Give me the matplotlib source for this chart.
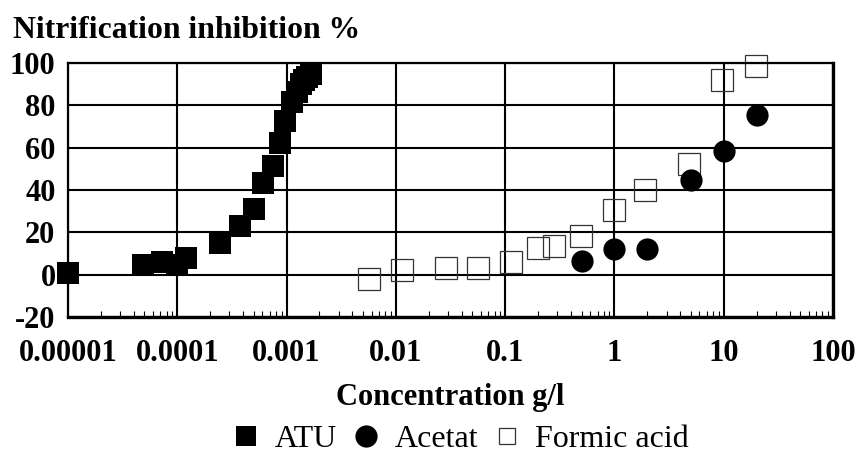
import numpy as np
from matplotlib import pyplot as plt
from matplotlib.ticker import FixedLocator, NullFormatter, LogLocator

plt.rcParams['font.family'] = ['Liberation Serif', 'DejaVu Serif']

# ATU
atu_x = [1e-5, 4.9e-5, 7.3e-5, 1.0e-4, 1.21e-4, 2.46e-4, 3.72e-4, 5.0e-4, 6.15e-4,
         7.5e-4, 8.7e-4, 9.7e-4, 1.13e-3, 1.25e-3, 1.35e-3, 1.45e-3, 1.55e-3, 1.68e-3]
atu_y = [1.0, 4.7, 5.8, 4.5, 8.1, 14.9, 22.9, 30.8, 43.2,
         51.2, 62.4, 72.5, 81.7, 86.5, 90.0, 92.0, 93.5, 95.0]

# Acetat
acetat_x = [0.5, 1.0, 2.0, 5.0, 10.0, 20.0]
acetat_y = [6.3, 12.0, 12.0, 44.7, 58.4, 75.4]

# Formic acid
formic_x = [0.0057, 0.0115, 0.029, 0.056, 0.113, 0.2, 0.28, 0.49, 1.0, 1.9, 4.8, 9.7, 19.8]
formic_y = [-2.2, 2.4, 3.3, 3.3, 5.9, 12.5, 13.6, 18.3, 30.7, 39.9, 52.2, 92.0, 98.7]

xticks = [1e-5, 1e-4, 1e-3, 1e-2, 1e-1, 1, 10, 100]
xticklabels = ['0.00001', '0.0001', '0.001', '0.01', '0.1', '1', '10', '100']
yticks = [-20, 0, 20, 40, 60, 80, 100]

fig = plt.figure(figsize=(8.66, 4.55), dpi=100)
ax = fig.add_axes([68 / 866, 1 - 317 / 455, 765 / 866, 254 / 455])

ax.plot(atu_x, atu_y, 's', color='black', ms=16.5, mew=0, label='ATU', clip_on=False, zorder=3)
ax.plot(acetat_x, acetat_y, 'o', color='black', ms=16, mew=0, label='Acetat', clip_on=False, zorder=4)
ax.plot(formic_x, formic_y, 's', mfc='none', mec='#333333', ms=16.5, mew=0.9,
        label='Formic acid', clip_on=False, zorder=2)

ax.set_xscale('log')
ax.set_xlim(1e-5, 100)
ax.set_ylim(-20, 100)
ax.xaxis.set_major_locator(FixedLocator(xticks))
ax.set_xticklabels(xticklabels)
ax.xaxis.set_minor_locator(LogLocator(base=10, subs=np.arange(2, 10), numticks=20))
ax.xaxis.set_minor_formatter(NullFormatter())
ax.set_yticks(yticks)
ax.set_yticklabels([str(v) for v in yticks])

ax.grid(True, which='major', color='black', linewidth=1.5)
ax.set_axisbelow(True)
ax.tick_params(axis='both', which='major', length=0, labelsize=22)
ax.tick_params(axis='x', which='major', pad=16)
ax.tick_params(axis='y', which='major', pad=9)
ax.tick_params(axis='x', which='minor', direction='in', length=4, width=0.8, top=False)
for lab in ax.get_xticklabels() + ax.get_yticklabels():
    lab.set_fontweight('bold')

for side in ['top', 'left']:
    ax.spines[side].set_linewidth(1.6)
for side in ['right', 'bottom']:
    ax.spines[side].set_linewidth(2.4)

ax.set_xlabel('Concentration g/l', fontsize=22, fontweight='bold', labelpad=11)
fig.text(13 / 866, 1 - 30 / 455, 'Nitrification inhibition %', fontsize=22.8,
         fontweight='bold', va='center', ha='left')

leg = fig.legend(loc='center', bbox_to_anchor=(462 / 866, 1 - 439 / 455), ncol=3,
                 frameon=False, fontsize=23, handlelength=0.7, handletextpad=0.55,
                 columnspacing=0.55, borderpad=0)
sizes = [15, 16, 11]
for h, s in zip(leg.legend_handles, sizes):
    h.set_markersize(s)

plt.savefig('out.png', dpi=100)
